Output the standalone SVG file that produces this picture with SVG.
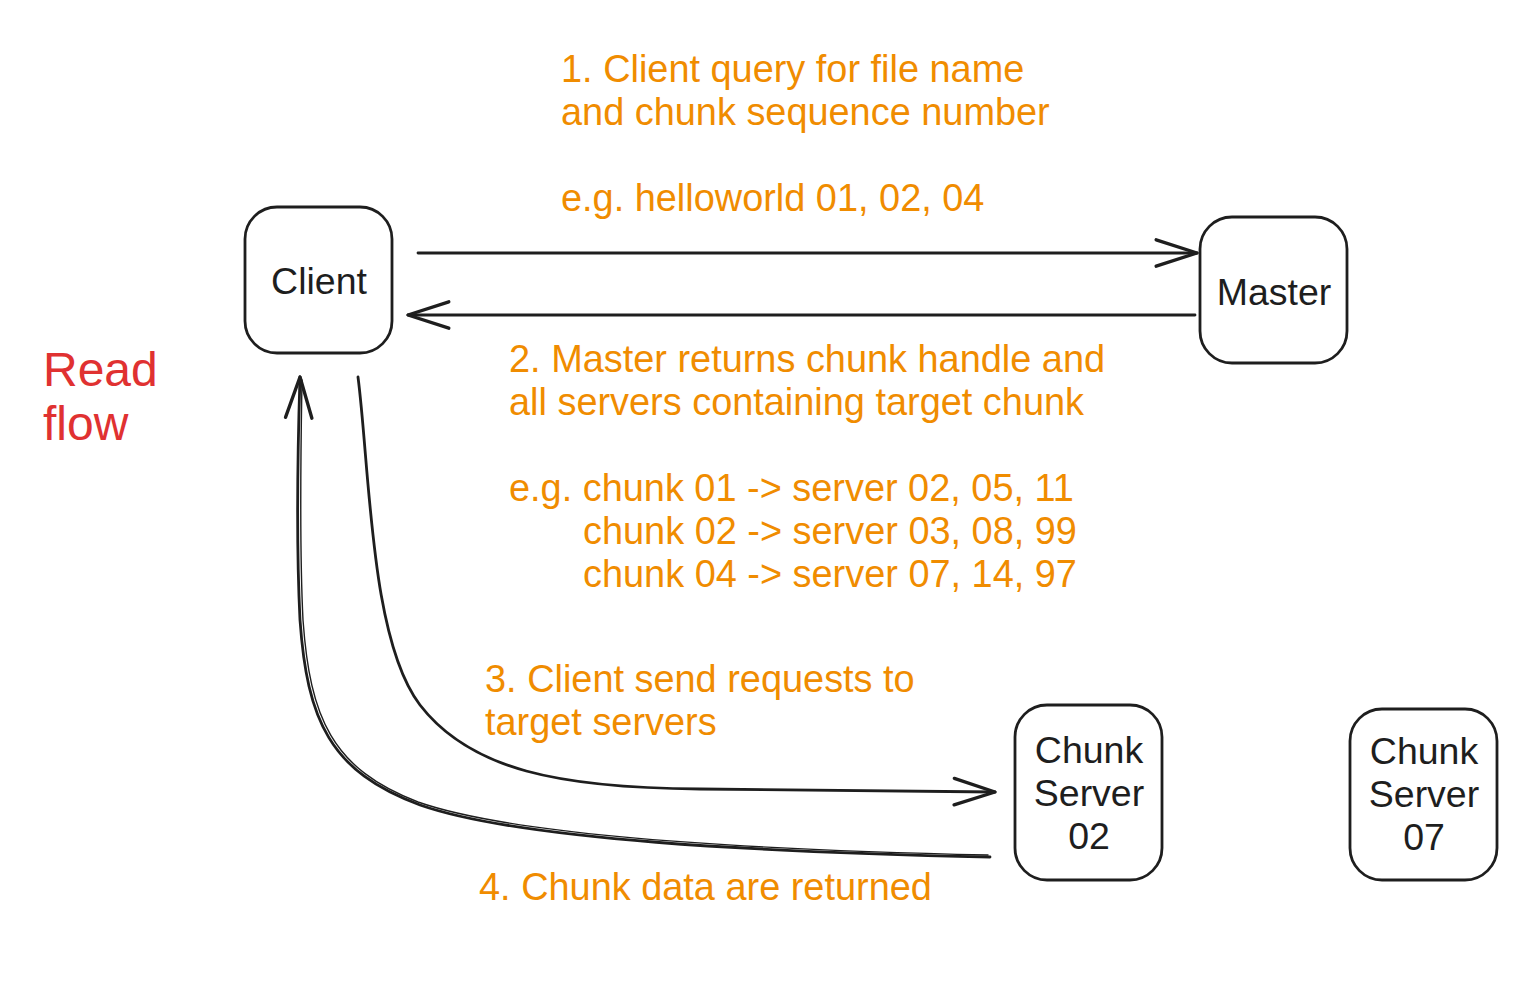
<svg xmlns="http://www.w3.org/2000/svg" width="1539" height="981" viewBox="0 0 1539 981">
<defs>
<style>
.box{fill:#ffffff;stroke:#1e1e1e;stroke-width:2.8}
.lbl{font-family:"Liberation Sans",Arial,Helvetica,sans-serif;font-size:37.5px;fill:#1e1e1e}
.note{font-family:"Liberation Sans",Arial,Helvetica,sans-serif;font-size:37.9px;fill:#f08c00}
.title{font-family:"Liberation Sans",Arial,Helvetica,sans-serif;font-size:48px;fill:#e03131}
.edge{fill:none;stroke:#1e1e1e;stroke-width:2.8;stroke-linecap:round;stroke-linejoin:round}
.thin{fill:none;stroke:#1e1e1e;stroke-width:1.4;stroke-linecap:round}
</style>
<marker id="arr" markerUnits="userSpaceOnUse" markerWidth="60" markerHeight="60" refX="0" refY="0" viewBox="-40 -20 50 40" orient="auto" overflow="visible">
<path d="M-34,-11 L0,0 L-34,11" fill="none" stroke="#1e1e1e" stroke-width="2.8" stroke-linecap="round" stroke-linejoin="round"/>
</marker>
</defs>
<rect width="1539" height="981" fill="#ffffff"/>

<g id="connectors">
<path class="edge" d="M418,253 L1197,253" marker-end="url(#arr)"/>
<path class="edge" d="M1195,315 L408,315" marker-end="url(#arr)"/>
<path class="edge" d="M358,377 C370,470 370,640 420,705 C470,770 560,788 700,789 L995,792" marker-end="url(#arr)"/>
<path class="edge" d="M990,857 C760,852 520,840 420,805 C330,772 307,720 300,620 C296,540 298,440 300,377" marker-end="url(#arr)"/>
<path class="thin" d="M988,855 C758,850 518,837 418,802 C332,769 310,718 303,620 C299,540 301,440 302,380"/>
</g>

<g id="client">
<rect class="box" x="245" y="207" width="147" height="146" rx="32"/>
<text class="lbl" x="319" y="294" text-anchor="middle">Client</text>
</g>

<g id="master">
<rect class="box" x="1200" y="217" width="147" height="146" rx="32"/>
<text class="lbl" x="1274" y="305" text-anchor="middle">Master</text>
</g>

<g id="chunk-server-02">
<rect class="box" x="1015" y="705" width="147" height="175" rx="32"/>
<text class="lbl" text-anchor="middle"><tspan x="1089" y="763">Chunk</tspan><tspan x="1089" y="806">Server</tspan><tspan x="1089" y="849">02</tspan></text>
</g>

<g id="chunk-server-07">
<rect class="box" x="1350" y="709" width="147" height="171" rx="32"/>
<text class="lbl" text-anchor="middle"><tspan x="1424" y="764">Chunk</tspan><tspan x="1424" y="807">Server</tspan><tspan x="1424" y="850">07</tspan></text>
</g>

<g id="title">
<text class="title"><tspan x="43" y="386">Read</tspan><tspan x="43" y="440">flow</tspan></text>
</g>

<g id="step1">
<text class="note"><tspan x="561" y="82">1. Client query for file name</tspan><tspan x="561" y="125">and chunk sequence number</tspan><tspan x="561" y="211">e.g. helloworld 01, 02, 04</tspan></text>
</g>

<g id="step2">
<text class="note"><tspan x="509" y="372">2. Master returns chunk handle and</tspan><tspan x="509" y="415">all servers containing target chunk</tspan><tspan x="509" y="501">e.g. chunk 01 -&gt; server 02, 05, 11</tspan><tspan x="583" y="544">chunk 02 -&gt; server 03, 08, 99</tspan><tspan x="583" y="587">chunk 04 -&gt; server 07, 14, 97</tspan></text>
</g>

<g id="step3">
<text class="note"><tspan x="485" y="692">3. Client send requests to</tspan><tspan x="485" y="735">target servers</tspan></text>
</g>

<g id="step4">
<text class="note"><tspan x="479" y="900">4. Chunk data are returned</tspan></text>
</g>
</svg>
